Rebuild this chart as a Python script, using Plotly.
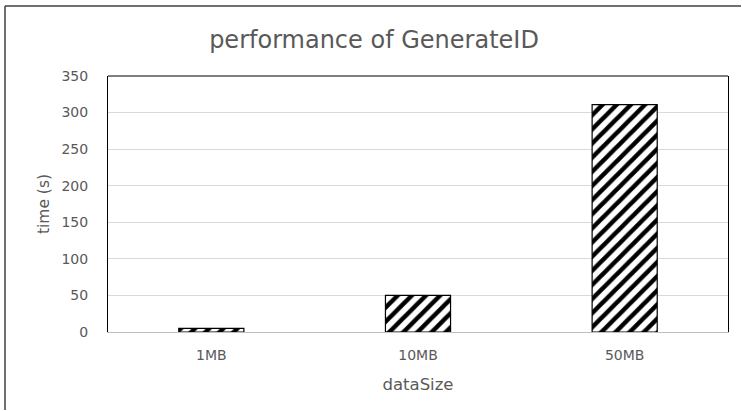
import plotly.graph_objects as go

categories = ["1MB", "10MB", "50MB"]
times = [5, 50, 311]
y_ticks = [0, 50, 100, 150, 200, 250, 300, 350]

W, H = 742, 411
L, R, T, B = 108, 14, 76, 79
pw, ph = W - L - R, H - T - B

def px_x(x):
    return (x - L) / pw

def px_y(y):
    return (H - B - y) / ph

fig = go.Figure()
fig.add_trace(go.Bar(
    x=categories, y=times,
    marker=dict(
        color="white",
        line=dict(color="black", width=1.2),
        pattern=dict(shape="/", fgcolor="black", bgcolor="white", fgopacity=1,
                     size=10, solidity=0.45),
    ),
))

font_fam = "DejaVu Sans, sans-serif"
grey = "#595959"

fig.update_layout(
    width=W, height=H,
    margin=dict(l=L, r=R, t=T, b=B),
    paper_bgcolor="white", plot_bgcolor="white",
    bargap=0.685,
    showlegend=False,
    title=dict(text="performance of GenerateID", x=374 / W, xanchor="center",
               y=1 - 40 / H, yanchor="middle",
               font=dict(family=font_fam, size=24, color=grey)),
    font=dict(family=font_fam, color=grey, size=14),
)
fig.update_xaxes(
    automargin=False,
    showline=True, linecolor="#bfbfbf", linewidth=1,
    ticks="", tickfont=dict(size=14, color=grey), ticklabelstandoff=10,
    title=dict(text="dataSize", font=dict(size=16.5, color=grey), standoff=16),
    showgrid=False,
)
fig.update_yaxes(
    automargin=False,
    range=[0, 350], tickvals=y_ticks, ticktext=[str(v) for v in y_ticks],
    showgrid=True, gridcolor="#d9d9d9", gridwidth=1,
    showline=True, linecolor="black", linewidth=1, mirror=True,
    ticks="", ticklabelstandoff=16,
    tickfont=dict(size=14, color=grey),
    title=dict(text="time (s)", font=dict(size=15.5, color=grey), standoff=8),
    zeroline=False,
)
# top border of plot area
fig.add_shape(type="line", xref="paper", yref="paper", x0=0, x1=1, y0=1, y1=1,
              line=dict(color="black", width=1))
# outer chart frame (left and top edges)
fig.add_shape(type="line", xref="paper", yref="paper",
              x0=px_x(5), x1=px_x(741), y0=px_y(6), y1=px_y(6),
              line=dict(color="#404040", width=1.5))
fig.add_shape(type="line", xref="paper", yref="paper",
              x0=px_x(5), x1=px_x(5), y0=px_y(6), y1=px_y(410),
              line=dict(color="#404040", width=1.5))

fig.write_html("out.html", config={"displayModeBar": False},
               post_script="document.body.style.margin='0';document.body.style.overflow='hidden';")
